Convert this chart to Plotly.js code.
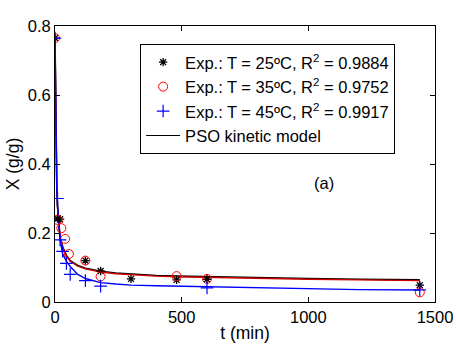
<!DOCTYPE html>
<html>
<head>
<meta charset="utf-8">
<script src="https://cdn.plot.ly/plotly-3.0.1.min.js"></script>
<style>
html,body{margin:0;padding:0;background:#fff;}
#chart{width:456px;height:350px;}
</style>
</head>
<body>
<div id="chart"></div>
<script>
// Experimental data
const t25 = [0, 10, 20, 120, 180, 300, 480, 600, 1440];
const x25 = [0.765, 0.242, 0.240, 0.120, 0.090, 0.067, 0.064, 0.066, 0.049];
const t35 = [0, 10, 25, 40, 55, 120, 180, 480, 600, 1440];
const x35 = [0.765, 0.238, 0.214, 0.183, 0.139, 0.120, 0.074, 0.075, 0.067, 0.028];
const t45 = [0, 10, 20, 30, 45, 60, 120, 180, 600, 1440];
const x45 = [0.765, 0.300, 0.180, 0.147, 0.112, 0.080, 0.062, 0.046, 0.041, 0.035];

// PSO model curves
const tModel = [0, 1, 2, 3, 5, 7, 10, 15, 20, 30, 45, 60, 90, 120, 180, 240, 300, 400, 480, 600, 800, 1000, 1200, 1440];
const m25 = [0.765, 0.672, 0.582, 0.512, 0.412, 0.342, 0.277, 0.217, 0.187, 0.160, 0.135, 0.120, 0.106, 0.098, 0.089, 0.084, 0.081, 0.077, 0.075, 0.073, 0.070, 0.068, 0.066, 0.064];
const m35 = [0.765, 0.670, 0.580, 0.510, 0.410, 0.340, 0.275, 0.215, 0.185, 0.158, 0.133, 0.118, 0.104, 0.096, 0.087, 0.082, 0.079, 0.075, 0.073, 0.071, 0.068, 0.066, 0.064, 0.062];
const m45 = [0.765, 0.660, 0.560, 0.480, 0.390, 0.330, 0.280, 0.215, 0.180, 0.140, 0.118, 0.103, 0.080, 0.068, 0.056, 0.052, 0.049, 0.047, 0.046, 0.043, 0.040, 0.038, 0.036, 0.035];

const legendNames = [
  'Exp.: T = 25ºC, R<sup>2</sup> = 0.9884',
  'Exp.: T = 35ºC, R<sup>2</sup> = 0.9752',
  'Exp.: T = 45ºC, R<sup>2</sup> = 0.9917',
  'PSO kinetic model'
];

const FAM = 'Liberation Sans, Arial, sans-serif';

const traces = [
  {x: tModel, y: m25, mode: 'lines', line: {color: '#000000', width: 1.6}, showlegend: false},
  {x: tModel, y: m35, mode: 'lines', line: {color: '#d00000', width: 1.4}, showlegend: false},
  {x: tModel, y: m45, mode: 'lines', line: {color: '#0000ff', width: 1.4}, showlegend: false},
  {x: t25, y: x25, mode: 'markers', name: legendNames[0], legendrank: 1,
   marker: {symbol: 'asterisk-open', size: 7, color: '#000000', line: {color: '#000000', width: 1.3}}},
  {x: t35, y: x35, mode: 'markers', name: legendNames[1], legendrank: 2,
   marker: {symbol: 'circle-open', size: 9, color: '#ff0000', line: {color: '#ff0000', width: 1}}},
  {x: t45, y: x45, mode: 'markers', name: legendNames[2], legendrank: 3,
   marker: {symbol: 'cross-thin-open', size: 9, color: '#0000ff', line: {color: '#0000ff', width: 1.2}}},
  {x: [null], y: [null], mode: 'lines', line: {color: '#000000', width: 1.2}, name: legendNames[3], legendrank: 4}
];

const axisFont = {family: FAM, size: 16.5, color: '#000'};

const layout = {
  width: 456, height: 350,
  margin: {l: 55, r: 21, t: 26, b: 48},
  paper_bgcolor: '#fff', plot_bgcolor: '#fff',
  font: axisFont,
  showlegend: true,
  legend: {
    x: 0.224, y: 0.935, xanchor: 'left', yanchor: 'top',
    bgcolor: '#fff', bordercolor: '#000', borderwidth: 1,
    font: {family: FAM, size: 16.5, color: '#000'},
    tracegroupgap: 0, itemwidth: 34
  },
  xaxis: {
    range: [0, 1500], tickvals: [0, 500, 1000, 1500],
    showgrid: false, zeroline: false,
    showline: true, linecolor: '#000', linewidth: 1, mirror: 'ticks',
    ticks: 'inside', ticklen: 5, tickcolor: '#000',
    tickfont: axisFont,
    title: {text: 't (min)', font: {family: FAM, size: 17.5, color: '#000'}, standoff: 1}
  },
  yaxis: {
    range: [0, 0.8], tickvals: [0, 0.2, 0.4, 0.6, 0.8],
    showgrid: false, zeroline: false,
    showline: true, linecolor: '#000', linewidth: 1, mirror: 'ticks',
    ticks: 'inside', ticklen: 5, tickcolor: '#000',
    tickfont: axisFont,
    title: {text: 'X (g/g)', font: {family: FAM, size: 17.5, color: '#000'}, standoff: 3}
  },
  annotations: [{
    x: 1063, y: 0.345, xref: 'x', yref: 'y', text: '(a)', showarrow: false,
    font: {family: FAM, size: 16.5, color: '#000'}
  }]
};

Plotly.newPlot('chart', traces, layout, {displayModeBar: false, staticPlot: true});
</script>
</body>
</html>
